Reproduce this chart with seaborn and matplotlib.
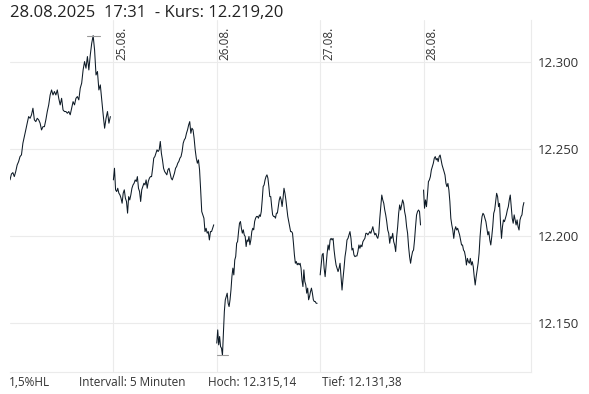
import numpy as np
import pandas as pd
import matplotlib
matplotlib.use('Agg')
import matplotlib.pyplot as plt
import seaborn as sns

# Kursverlauf in 5-Minuten-Schritten, je Handelstag
tage = ['22.08.', '25.08.', '26.08.', '27.08.', '28.08.']

kurs_2208 = [12232.2, 12235.6, 12236.4, 12234.1, 12237.0, 12240.8, 12242.7, 12245.6, 12246.6, 12253.3,
             12257.1, 12260.9, 12264.8, 12268.6, 12267.6, 12269.6, 12273.4, 12266.7, 12265.7, 12267.6,
             12266.7, 12264.8, 12260.9, 12262.8, 12262.8, 12266.7, 12271.5, 12275.3, 12281.0, 12283.9,
             12281.0, 12283.0, 12281.0, 12283.9, 12279.1, 12275.3, 12279.1, 12272.4, 12271.5, 12271.5,
             12270.5, 12271.5, 12269.6, 12273.4, 12277.2, 12275.3, 12279.1, 12280.1, 12278.2, 12284.9,
             12287.8, 12295.4, 12300.2, 12296.4, 12303.1, 12295.4, 12304.0, 12310.7, 12315.1, 12306.9,
             12292.5, 12294.5, 12283.9, 12286.8, 12278.2, 12269.6, 12261.9, 12267.6, 12271.5, 12264.8,
             12268.6]

kurs_2508 = [12232.2, 12238.9, 12226.5, 12225.5, 12227.4, 12224.6, 12223.6, 12221.7, 12218.8, 12224.6,
             12226.5, 12221.7, 12219.8, 12213.1, 12222.6, 12220.7, 12223.6, 12227.4, 12229.3, 12230.3,
             12232.2, 12231.3, 12234.1, 12227.4, 12225.5, 12219.8, 12226.5, 12228.4, 12230.3, 12229.3,
             12232.2, 12227.4, 12231.3, 12233.2, 12234.1, 12234.1, 12238.9, 12244.7, 12245.6, 12247.5,
             12249.5, 12248.5, 12249.5, 12254.3, 12247.5, 12243.7, 12238.9, 12237.0, 12236.1, 12235.1,
             12238.0, 12238.9, 12236.1, 12233.2, 12232.2, 12234.1, 12236.1, 12238.9, 12239.9, 12241.8,
             12242.8, 12244.7, 12245.6, 12248.5, 12253.3, 12255.2, 12256.2, 12259.0, 12261.0, 12263.8,
             12265.7, 12259.0, 12261.9, 12261.0, 12256.2, 12249.5, 12244.7, 12241.8, 12243.7, 12238.0,
             12226.5, 12214.0, 12212.1, 12210.2, 12202.5, 12204.4, 12201.6, 12202.5, 12197.7, 12202.5,
             12202.5, 12204.4, 12206.4]

kurs_2608 = [12138.4, 12146.0, 12137.4, 12142.2, 12136.4, 12135.5, 12131.4, 12144.1, 12156.6, 12163.3,
             12165.2, 12167.1, 12161.3, 12159.4, 12163.3, 12169.0, 12176.7, 12181.5, 12177.6, 12186.2,
             12188.2, 12195.8, 12196.8, 12202.5, 12207.3, 12208.3, 12204.4, 12201.6, 12203.5, 12200.6,
             12199.7, 12193.9, 12197.7, 12196.8, 12199.7, 12194.9, 12197.7, 12202.5, 12204.4, 12203.5,
             12208.3, 12210.2, 12211.2, 12211.2, 12210.2, 12212.1, 12211.2, 12214.0, 12220.7, 12228.4,
             12229.3, 12232.2, 12234.1, 12235.1, 12233.2, 12228.4, 12222.6, 12222.6, 12216.9, 12212.1,
             12211.2, 12211.2, 12210.2, 12213.1, 12213.1, 12216.9, 12220.7, 12222.6, 12220.7, 12216.9,
             12221.7, 12227.4, 12224.6, 12220.7, 12215.9, 12211.2, 12208.3, 12205.4, 12202.5, 12202.5,
             12201.6, 12195.8, 12189.1, 12184.3, 12185.3, 12183.4, 12184.3, 12183.4, 12184.3, 12181.5,
             12174.7, 12170.9, 12180.5, 12173.8, 12171.9, 12167.1, 12170.0, 12163.3, 12165.2, 12168.0,
             12170.0, 12167.1, 12163.3, 12162.3, 12162.3, 12161.3, 12161.3]

kurs_2708 = [12177.6, 12183.3, 12189.1, 12190.0, 12181.4, 12176.6, 12183.3, 12190.0, 12194.8, 12191.9,
             12197.7, 12198.6, 12197.7, 12198.6, 12191.9, 12187.1, 12183.3, 12181.4, 12179.5, 12181.4,
             12184.3, 12176.6, 12168.9, 12175.6, 12181.4, 12188.1, 12191.9, 12197.7, 12198.6, 12200.6,
             12202.5, 12198.6, 12191.9, 12192.9, 12189.1, 12188.1, 12188.5, 12188.5, 12191.0, 12194.8,
             12192.9, 12194.8, 12193.8, 12196.7, 12197.7, 12198.6, 12201.5, 12201.5, 12200.6, 12201.5,
             12202.5, 12201.5, 12203.4, 12205.3, 12202.5, 12200.6, 12201.5, 12199.6, 12198.6, 12201.5,
             12210.1, 12216.8, 12223.5, 12220.7, 12218.8, 12214.9, 12212.0, 12208.2, 12203.4, 12201.5,
             12195.8, 12199.6, 12198.6, 12201.5, 12196.7, 12194.8, 12191.0, 12199.6, 12205.3, 12213.0,
             12217.8, 12214.9, 12217.8, 12220.7, 12218.8, 12214.0, 12211.1, 12205.3, 12201.5, 12193.8,
             12188.1, 12184.3, 12188.1, 12191.0, 12191.9, 12197.7, 12205.3, 12212.0, 12214.0, 12214.9,
             12214.0, 12206.3]

kurs_2808 = [12226.4, 12215.9, 12220.7, 12216.8, 12223.5, 12231.2, 12232.2, 12234.1, 12237.9, 12239.8,
             12241.7, 12244.6, 12245.6, 12243.7, 12244.6, 12242.7, 12245.6, 12246.5, 12243.7, 12240.8,
             12238.9, 12237.0, 12235.0, 12230.2, 12228.3, 12230.2, 12226.4, 12219.7, 12210.1, 12206.3,
             12203.4, 12198.6, 12203.4, 12205.3, 12203.4, 12204.4, 12202.5, 12200.6, 12197.7, 12194.8,
             12194.8, 12191.9, 12191.0, 12188.1, 12183.3, 12187.1, 12185.2, 12184.3, 12187.1, 12183.3,
             12185.2, 12182.4, 12176.6, 12171.8, 12176.6, 12180.4, 12184.3, 12190.0, 12199.6, 12206.3,
             12211.1, 12213.0, 12212.1, 12210.1, 12208.2, 12204.4, 12200.6, 12202.5, 12197.7, 12194.8,
             12199.6, 12205.3, 12213.0, 12214.9, 12219.7, 12224.5, 12222.6, 12216.8, 12218.7, 12207.3,
             12198.6, 12205.3, 12209.2, 12208.2, 12210.1, 12212.1, 12214.9, 12216.8, 12220.7, 12223.5,
             12216.8, 12210.1, 12207.3, 12212.1, 12209.2, 12206.3, 12209.2, 12205.3, 12203.4, 12209.2,
             12211.1, 12212.1, 12216.8, 12219.2]

y_ticks = [12150, 12200, 12250, 12300]
hoch = 12315.14
tief = 12131.38

titel = '28.08.2025  17:31  - Kurs: 12.219,20'
fuss = ['1,5%HL', 'Intervall: 5 Minuten', 'Hoch: 12.315,14', 'Tief: 12.131,38']

# DataFrame bauen: 102 Bars je Handelstag
bars_pro_tag = 102
frames = []
for i, kurs in enumerate([kurs_2208, kurs_2508, kurs_2608, kurs_2708, kurs_2808]):
    pos = i * bars_pro_tag + np.linspace(0, 99, len(kurs))
    frames.append(pd.DataFrame({'x': pos, 'kurs': kurs, 'tag': tage[i]}))
df = pd.concat(frames, ignore_index=True)

sns.set_style('white')
plt.rcParams['font.family'] = ['Open Sans', 'DejaVu Sans']

W, H = 589, 394
fig = plt.figure(figsize=(W / 100, H / 100), dpi=100)
ax = fig.add_axes([10 / W, 22 / H, 521 / W, 352 / H])

grid_col = '#ebebeb'
for t in y_ticks:
    ax.axhline(t, color=grid_col, lw=0.8, zorder=0)
for i in range(1, len(tage)):
    ax.axvline(i * bars_pro_tag, color=grid_col, lw=0.8, zorder=0)
    ax.text(i * bars_pro_tag + 2, 0.981, tage[i], transform=ax.get_xaxis_transform(),
            rotation=90, ha='left', va='top', fontsize=8.5, color='#333333')

sns.lineplot(data=df, x='x', y='kurs', units='tag', estimator=None,
             color='#0d1a26', lw=0.75, ax=ax, legend=False)

# Hoch / Tief Markierungen
i_hoch = df['kurs'].idxmax()
i_tief = df['kurs'].idxmin()
ax.plot([df.loc[i_hoch, 'x'] - 6.5, df.loc[i_hoch, 'x'] + 6.5], [hoch, hoch], color='#999999', lw=0.8)
ax.plot([df.loc[i_tief, 'x'] - 5.5, df.loc[i_tief, 'x'] + 5.5], [tief, tief], color='#999999', lw=0.8)

ax.set_xlim(0, 514)
ax.set_ylim(12121.8, 12324.1)
ax.set_xticks([])
ax.yaxis.tick_right()
ax.set_yticks(y_ticks)
ax.set_yticklabels([f'{t:,.0f}'.replace(',', '.') for t in y_ticks], fontsize=9.5, color='#333333')
ax.tick_params(axis='y', length=0, pad=5)
ax.set_xlabel('')
ax.set_ylabel('')

for s in ['top', 'left']:
    ax.spines[s].set_visible(False)
ax.spines['right'].set_color(grid_col)
ax.spines['bottom'].set_color(grid_col)
ax.spines['right'].set_linewidth(0.8)
ax.spines['bottom'].set_linewidth(0.8)

fig.text(10 / W, 1 - 13 / H, titel, fontsize=12, color='#222222', va='center', ha='left')
for txt, px in zip(fuss, [9, 79, 208, 322]):
    fig.text(px / W, 1 - 382 / H, txt, fontsize=8.5, color='#333333', va='center', ha='left')

fig.savefig('out.png', dpi=100, facecolor='white')
